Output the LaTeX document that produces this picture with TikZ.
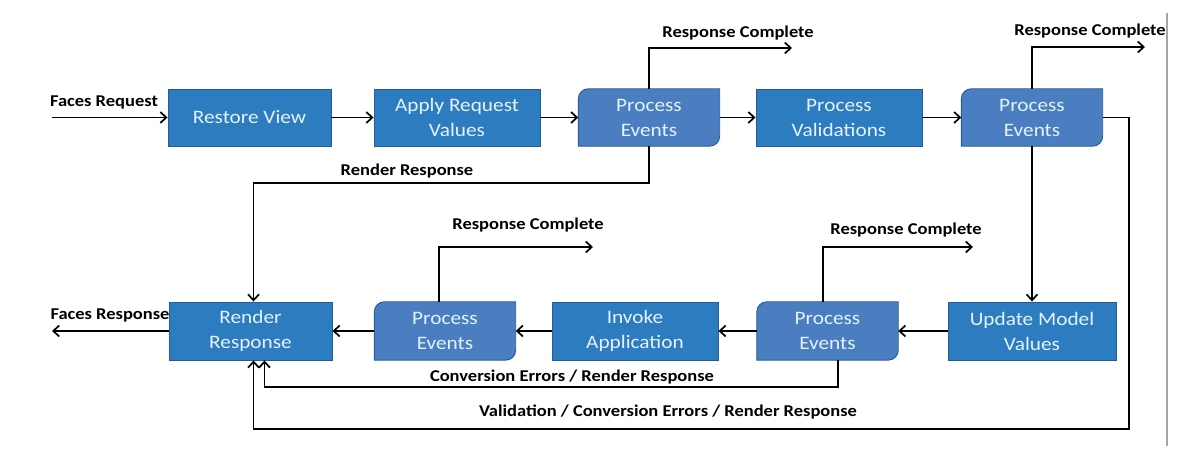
\documentclass[tikz,border=0pt]{standalone}
\usepackage{fontspec}
\setmainfont{Carlito}[FakeStretch=1.12]
\usetikzlibrary{arrows.meta,backgrounds}
\definecolor{sqfill}{RGB}{46,124,192}
\definecolor{pefill}{RGB}{74,126,192}
\definecolor{boxedge}{RGB}{36,92,148}
\definecolor{boxtext}{RGB}{228,242,255}
\tikzset{
  sqbox/.style={rectangle, fill=sqfill, draw=boxedge, line width=0.9pt, inner sep=0pt,
    minimum height=57pt, text=boxtext, align=center, font=\fontsize{19}{25}\selectfont},
  pebox/.style={rectangle, inner sep=0pt, minimum width=141pt,
    minimum height=57pt, text=boxtext, align=center, font=\fontsize{19}{25}\selectfont},
  peshape/.style={fill=pefill, draw=boxedge, line width=0.9pt},
  lbl/.style={inner sep=0pt, font=\bfseries\fontsize{16.5}{18}\selectfont},
  arr/.style={line width=1.7pt, -{Straight Barb[length=6pt,width=11pt]}},
}
\begin{document}
\begin{tikzpicture}[x=1pt,y=1pt]
\useasboundingbox (0,0) rectangle (1184,460);
% top row
\node[sqbox, minimum width=163pt] (rv) at (249.5,342.5) {Restore View};
\node[sqbox, minimum width=166pt] (arv) at (457,342.5) {Apply Request\\Values};
\node[pebox] (pe1) at (649,342.5) {Process\\Events};
\node[sqbox, minimum width=166pt] (pv) at (839,342.5) {Process\\Validations};
\node[pebox] (pe2) at (1032,342.5) {Process\\Events};
% bottom row
\node[sqbox, minimum width=163pt, minimum height=58pt] (rr) at (250.5,129) {Render\\Response};
\node[pebox, minimum height=58pt] (pe4) at (445,129) {Process\\Events};
\node[sqbox, minimum width=166pt, minimum height=58pt] (ia) at (635,129) {Invoke\\Application};
\node[pebox, minimum height=58pt] (pe3) at (827.5,129) {Process\\Events};
\node[sqbox, minimum width=168pt, minimum height=58pt] (umv) at (1032,129) {Update Model\\Values};
% rounded diagonal-corner shapes
\begin{scope}[on background layer]
\foreach \n in {pe1,pe2,pe3,pe4}{
  \draw[peshape] (\n.south west) -- ([yshift=-10pt]\n.north west)
    arc[start angle=180,end angle=90,radius=10pt] -- (\n.north east)
    -- ([yshift=10pt]\n.south east) arc[start angle=0,end angle=-90,radius=10pt] -- cycle;
}
\end{scope}
% free ends
\coordinate (fr) at (52,342.5);
\coordinate (frs) at (52,129);
\coordinate (rc1) at (792,412);
\coordinate (rc2) at (1145,413);
\coordinate (rc3) at (593,213);
\coordinate (rc4) at (973,213);
% labels
\node[lbl] (lfr) at (104,358) {Faces Request};
\node[lbl] (lrc1) at (738,427) {Response Complete};
\node[lbl] (lrc2) at (1090,429) {Response Complete};
\node[lbl] (lrr) at (407,289) {Render Response};
\node[lbl] (lrc3) at (528,235) {Response Complete};
\node[lbl] (lrc4) at (906,230) {Response Complete};
\node[lbl] (lfrs) at (110,145) {Faces Response};
\node[lbl] (lce) at (572,83) {Conversion Errors / Render Response};
\node[lbl] (lvce) at (668,48) {Validation / Conversion Errors / Render Response};
% connectors top row
\draw[arr] (fr) -- (rv.west);
\draw[arr] (rv) -- (arv);
\draw[arr] (arv) -- (pe1);
\draw[arr] (pe1) -- (pv);
\draw[arr] (pv) -- (pe2);
\draw[arr] (pe1.north) |- (rc1);
\draw[arr] (pe2.north) |- (rc2);
\draw[arr] (pe1.south) -- (pe1.south |- 0,277) -| ([xshift=3pt]rr.north);
\draw[arr] (pe2.south) -- (pe2.south |- umv.north);
\draw[arr] (pe2.east) -| (1129,31) -| ([xshift=3pt]rr.south);
% connectors bottom row
\draw[arr] (umv) -- (pe3);
\draw[arr] (pe3) -- (ia);
\draw[arr] (ia) -- (pe4);
\draw[arr] (pe4) -- (rr);
\draw[arr] (rr.west) -- (frs);
\draw[arr] ([xshift=-4.5pt]pe3.north) |- (rc4);
\draw[arr] ([xshift=-6pt]pe4.north) |- (rc3);
\draw[arr] ([xshift=10.5pt]pe3.south) -- ++(0,-27) -| ([xshift=14pt]rr.south);
% right border line
\draw[black!35, line width=1.2pt] (1167,447) -- (1167,14);
\end{tikzpicture}
\end{document}
